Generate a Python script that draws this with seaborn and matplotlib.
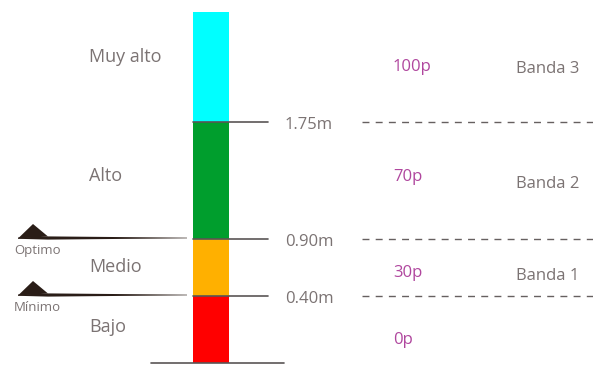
"""
Water level diagram: level bands, thresholds and points
"""

import numpy as np
import matplotlib
matplotlib.use('Agg')
import matplotlib.pyplot as plt
import seaborn as sns

# --- data ---
levels = ['Bajo', 'Medio', 'Alto', 'Muy alto']
thresholds = ['0.40m', '0.90m', '1.75m']
points = ['0p', '30p', '70p', '100p']
bands = ['Banda 1', 'Banda 2', 'Banda 3']
markers = ['Mínimo', 'Optimo']   # sit on the first two thresholds

# --- layout (diagram units, pixel-like, y upward) ---
edges = np.array([2, 69, 126, 243, 353])   # segment boundaries of the column
bar_x, bar_w = 211, 36
level_label_y = [33, 93, 184, 303]
point_label_y = [21, 88, 184, 294]
band_label_y = [85, 177, 292]
level_colors = ['#ff0000', '#ffb000', '#009e2d', '#00ffff']

TEXT = '#7b7373'
PURPLE = '#b0479e'
LINE = '#5a5555'
MARK = '#2a1d17'

sns.set_theme(style='white')
plt.rcParams['font.family'] = ['Open Sans', 'DejaVu Sans']

fig = plt.figure(figsize=(5.93, 3.65), dpi=100)
ax = fig.add_axes([0, 0, 1, 1])
ax.set_xlim(0, 593)
ax.set_ylim(0, 365)
ax.axis('off')

# stacked column
ax.bar([bar_x] * len(levels), np.diff(edges), bottom=edges[:-1], width=bar_w,
       color=level_colors, linewidth=0, zorder=2)

# baseline under the column
ax.plot([151, 284], [edges[0], edges[0]], color=LINE, lw=1.2, zorder=3)

# threshold ticks, labels and dashed guides
for i, lab in enumerate(thresholds):
    y = edges[i + 1]
    ax.plot([bar_x - bar_w / 2, 268], [y, y], color=LINE, lw=1.2, zorder=3)
    ax.text(285, y - 7, lab, color=TEXT, fontsize=12, va='baseline', ha='left')
    ax.plot([362, 593], [y, y], color='#666060', lw=1.0,
            linestyle=(0, (5, 4.5)), zorder=3)

# level names on the left
for lab, y in zip(levels, level_label_y):
    ax.text(89, y, lab, color=TEXT, fontsize=13, va='baseline', ha='left')

# points and bands on the right
for lab, y in zip(points, point_label_y):
    ax.text(393, y, lab, color=PURPLE, fontsize=12, va='baseline', ha='left')
for lab, y in zip(bands, band_label_y):
    ax.text(516, y, lab, color=TEXT, fontsize=12, va='baseline', ha='left')

# Minimo / Optimo pointers
for i, lab in enumerate(markers):
    y = edges[i + 1] + 1
    tri_x = [18, 33, 48]
    tri_y = [y - 0.5, y + 14, y + 1.5]
    ax.fill(tri_x, tri_y, color=MARK, lw=0, zorder=4)
    ax.fill([18, 48, 187, 187, 48, 18],
            [y + 0.5, y + 1.6, y + 0.3, y - 0.3, y - 1.6, y - 0.8],
            color=MARK, lw=0, zorder=4)
    ax.text(14, y - 16, lab, color=TEXT, fontsize=9.5, va='baseline', ha='left')

fig.savefig('out.png', dpi=100)
